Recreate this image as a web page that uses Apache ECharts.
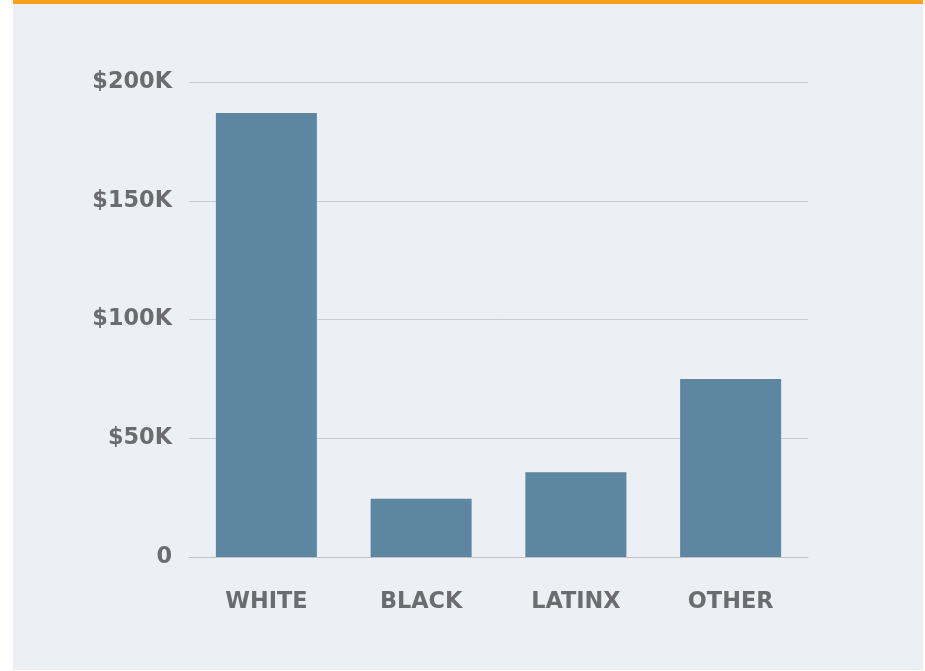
<!DOCTYPE html>
<html>
<head>
<meta charset="utf-8">
<script src="https://cdn.jsdelivr.net/npm/echarts@6/dist/echarts.min.js"></script>
<style>
    body { margin: 0; background: #ffffff; }
    #panel { position: absolute; left: 13px; top: 0; width: 910px; height: 666px; background: #eceff4; border-top: 4px solid #f6a11c; }
    #graph { position: absolute; left: 0; top: 0; width: 925px; height: 671px; }
</style>
</head>
<body>
<div id="panel"></div>
<div id="graph"></div>
<script>
"use strict"

const groups = ["WHITE", "BLACK", "LATINX", "OTHER"];
const wealth = [187000, 24500, 35700, 75000];
const yTicks = [0, 50000, 100000, 150000, 200000];

const txtCol = "#6c6c70";
const fnt = "DejaVu Sans";

const myChart = echarts.init(document.getElementById("graph"), null, { renderer: "canvas" });

const option = {
    backgroundColor: "transparent",
    animation: false,
    grid: { left: 189, right: 117, top: 82, bottom: 114, containLabel: false },
    xAxis: [{
        type: "category",
        data: groups,
        axisLine: { show: true, lineStyle: { color: "#bfc2c7", width: 1 } },
        axisTick: { show: false },
        axisLabel: { color: txtCol, fontFamily: fnt, fontWeight: "bold", fontSize: 22.4, margin: 34 }
    }],
    yAxis: [{
        type: "value",
        min: yTicks[0],
        max: yTicks[yTicks.length - 1],
        interval: yTicks[1] - yTicks[0],
        axisLine: { show: false },
        axisTick: { show: false },
        splitLine: { lineStyle: { color: "#c9ccd1", width: 1 } },
        axisLabel: {
            color: txtCol, fontFamily: fnt, fontWeight: "bold", fontSize: 22.4, margin: 17,
            padding: [6, 0, 0, 0],
            formatter: v => v === 0 ? "0" : "$" + (v / 1000) + "K"
        }
    }],
    series: [{
        type: "bar",
        data: wealth,
        barWidth: 101,
        itemStyle: { color: "#5d86a0" }
    }]
};
myChart.setOption(option);
</script>
</body>
</html>
